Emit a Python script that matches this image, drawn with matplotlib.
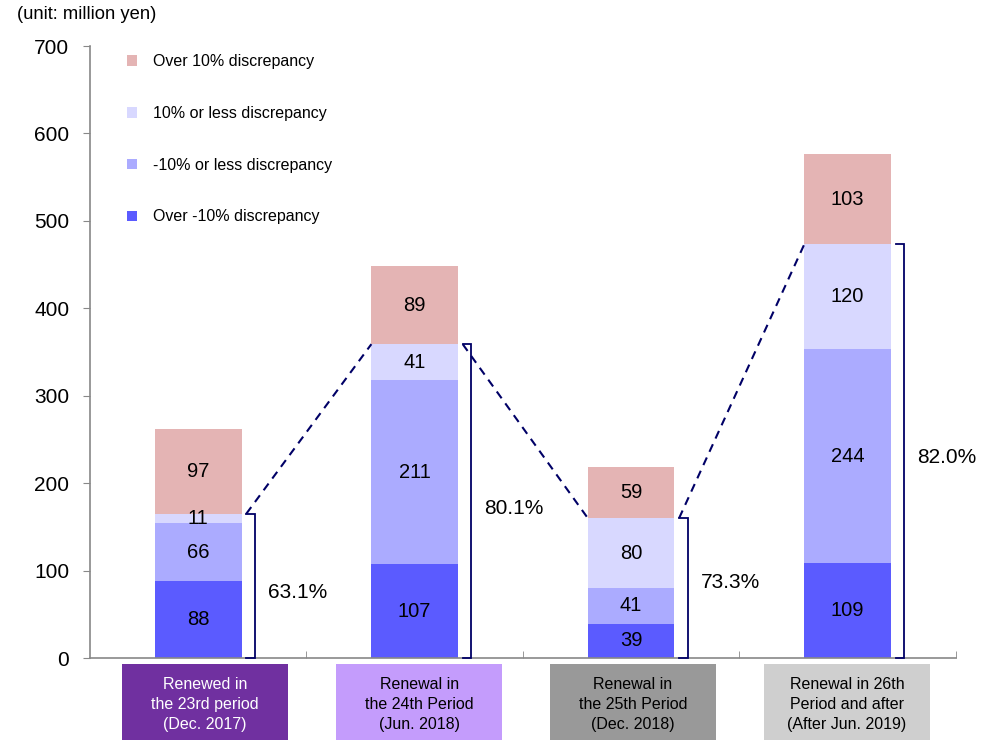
import matplotlib
matplotlib.use('Agg')
import matplotlib.pyplot as plt
from matplotlib.patches import Patch, Rectangle
import matplotlib.transforms as mtrans
import numpy as np

plt.rcParams['font.family'] = ['Liberation Sans', 'DejaVu Sans']

# ── data ─────────────────────────────────────────────────────────────────────
periods = ['Renewed in\nthe 23rd period\n(Dec. 2017)',
           'Renewal in\nthe 24th Period\n(Jun. 2018)',
           'Renewal in\nthe 25th Period\n(Dec. 2018)',
           'Renewal in 26th\nPeriod and after\n(After Jun. 2019)']
over_minus10 = [88, 107, 39, 109]
le_minus10   = [66, 211, 41, 244]
le_plus10    = [11, 41, 80, 120]
over_plus10  = [97, 89, 59, 103]
within_share = ['63.1%', '80.1%', '73.3%', '82.0%']
share_y      = [75, 171, 86, 229]

series = [('Over -10% discrepancy', over_minus10, '#5B5BFF'),
          ('-10% or less discrepancy', le_minus10, '#ABABFF'),
          ('10% or less discrepancy', le_plus10, '#D8D8FF'),
          ('Over 10% discrepancy', over_plus10, '#E4B4B4')]
box_colors = ['#7030A0', '#C49CFC', '#999999', '#CFCFCF']
box_text   = ['white', 'black', 'black', 'black']

NAVY = '#000066'
BAR_W = 0.4

fig = plt.figure(figsize=(9.95, 7.4), dpi=100)
ax = fig.add_axes([0.0905, 0.1108, 0.870, 0.827])

x = np.arange(len(periods))
bottom = np.zeros(len(periods))
for name, vals, col in series:
    vals = np.array(vals, dtype=float)
    ax.bar(x, vals, BAR_W, bottom=bottom, color=col, label=name, zorder=2)
    for xi, b, v in zip(x, bottom, vals):
        ax.text(xi, b + v / 2, f'{v:.0f}', ha='center', va='center',
                fontsize=14.5, color='black', zorder=3)
    bottom += vals

# top of the "within" part (first three segments)
within_top = np.array(over_minus10) + np.array(le_minus10) + np.array(le_plus10)

# brackets beside each bar
for xi, top in zip(x, within_top):
    bx = xi + BAR_W / 2 + 0.062
    hx = xi + BAR_W / 2 + 0.022
    ax.plot([hx, bx, bx, hx], [top, top, 0, 0], color=NAVY, lw=1.3,
            solid_joinstyle='miter', clip_on=False, zorder=3)

# dashed connectors between consecutive bars
for i in range(len(periods) - 1):
    ax.plot([x[i] + BAR_W / 2 + 0.022, x[i + 1] - BAR_W / 2],
            [within_top[i], within_top[i + 1]], color=NAVY, lw=1.5,
            ls=(0, (4, 3)), zorder=3)

for xi, txt, yy in zip(x, within_share, share_y):
    ax.text(xi + 0.46, yy, txt, ha='center', va='center', fontsize=15)

# axes styling
ax.set_xlim(-0.5, 3.5)
ax.set_ylim(0, 700)
ax.set_yticks(range(0, 701, 100))
ax.tick_params(axis='y', direction='out', length=5, color='#888888',
               labelsize=15, pad=10)
ax.set_xticks([])
ax.set_xticks([0.5, 1.5, 2.5, 3.5], minor=True)
ax.tick_params(axis='x', which='minor', direction='in', length=5,
               color='#888888')
for s in ['top', 'right']:
    ax.spines[s].set_visible(False)
ax.spines['left'].set_color('#888888')
ax.spines['bottom'].set_color('#888888')
ax.spines['left'].set_linewidth(1.2)
ax.spines['bottom'].set_linewidth(1.2)

# period boxes under the axis
trans = mtrans.blended_transform_factory(ax.transData, ax.transAxes)
for xi, lab, bc, tc in zip(x, periods, box_colors, box_text):
    cx = xi + 0.032 - 0.0115 * xi
    ax.add_patch(Rectangle((cx - 0.385, -0.134), 0.77, 0.124,
                           transform=trans, facecolor=bc, edgecolor='none',
                           clip_on=False))
    ax.text(cx, -0.076, lab, transform=trans, ha='center',
            va='center', fontsize=11.5, color=tc, linespacing=1.38)

# legend (reverse stacking order)
handles = [Patch(facecolor=c, edgecolor='none', label=n)
           for n, _, c in series[::-1]]
ax.legend(handles=handles, loc='upper left', bbox_to_anchor=(0.026, 1.01),
          frameon=False, fontsize=11.5, handlelength=0.65, handleheight=0.65,
          handletextpad=1.0, labelspacing=2.3)

fig.text(0.017, 0.98, '(unit: million yen)', fontsize=13.2, va='center')

fig.savefig('out.png', dpi=100)
